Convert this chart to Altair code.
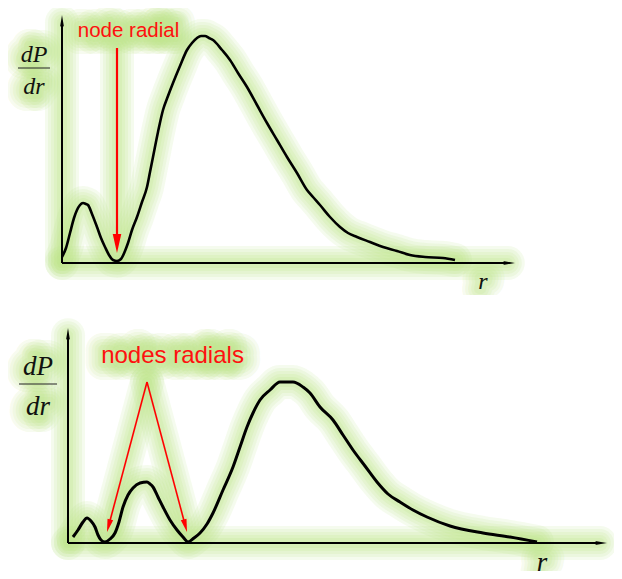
import altair as alt
import pandas as pd
import numpy as np

# ---------------- data (arbitrary units) ----------------
# upper panel : 2s-like radial distribution
top_r = [0, 0.4, 0.8, 1.2, 1.5, 1.8, 2.1, 2.4, 2.6, 3.0, 3.5, 3.9, 4.3, 4.7, 5.1, 5.5, 5.9,
         6.3, 6.6, 7.0, 7.5, 8.0, 8.5, 8.8, 9.1, 9.6, 10.1, 10.6, 11.1, 11.8, 12.5, 13.0,
         13.5, 13.9, 14.3, 14.7, 15.1, 16.0, 16.8, 17.6, 18.5, 19.5, 20.5, 21.5, 22.5,
         23.5, 24.5, 25.1, 25.8, 26.8, 27.8, 28.6, 29.5, 30.8, 32.1, 33.5, 34.8, 36.3,
         38.1, 39.3]
top_p = [0.6, 1.5, 3.0, 4.5, 5.3, 5.8, 6.0, 5.9, 5.8, 4.9, 3.6, 2.5, 1.6, 0.8, 0.3, 0.2, 0.4,
         1.2, 2.0, 3.3, 4.6, 6.1, 7.6, 9.1, 10.6, 13.1, 15.3, 16.7, 18.0, 19.7, 21.3, 22.0,
         22.5, 22.7, 22.7, 22.5, 22.3, 21.3, 20.3, 19.0, 17.6, 15.8, 14.0, 12.3, 10.6,
         9.0, 7.3, 6.6, 5.8, 4.6, 3.6, 3.0, 2.6, 2.1, 1.6, 1.2, 0.8, 0.6,
         0.5, 0.3]

# lower panel : 3s-like radial distribution
bot_r = [0.5, 1.0, 1.5, 1.9, 2.3, 2.7, 3.0, 3.3, 3.7, 4.2, 4.7, 5.1, 5.5, 6.0, 6.5, 7.2, 7.9,
         8.2, 8.5, 9.0, 9.5, 10.2, 10.9, 11.5, 12.0, 12.6, 13.2, 13.9, 14.5, 15.5, 16.5,
         17.2, 17.9, 18.5, 19.2, 20.2, 21.2, 21.9, 22.5, 23.5, 24.2, 25.2, 26.5, 27.5,
         28.5, 29.7, 30.9, 32.0, 33.2, 34.5, 35.9, 38.2, 41.5, 44.2, 46.9]
bot_p = [0.6, 1.3, 2.1, 2.5, 2.2, 1.6, 0.8, 0.3, 0.1, 0.4, 1.0, 2.1, 3.6, 4.8, 5.5, 6.0, 6.1,
         5.9, 5.6, 4.6, 3.6, 2.3, 1.3, 0.6, 0.1, 0.5, 1.0, 1.9, 3.0, 5.3, 7.6,
         9.6, 11.6, 13.0, 14.3, 15.3, 16.1, 16.1, 16.1, 15.6, 15.0, 13.6, 12.3, 10.8,
         9.3, 7.7, 6.1, 4.9, 4.1, 3.3, 2.6, 1.7, 1.0, 0.6, 0.1]

# axis extents (arrow tips) : (r_max, p_max)
top_axis_tip = [45.3, 24.8]
bot_axis_tip = [53.9, 21.5]

# node annotation arrows : start (r, p) -> tip (r, p)
top_node_start = [[5.5, 21.5]]
top_node_tip = [[5.5, 1.0]]
bot_node_start = [[7.9, 16.1], [7.9, 16.1]]
bot_node_tip = [[3.9, 1.1], [11.9, 1.1]]

top_label = "node radial"
bot_label = "nodes radials"

GLOW = "#bfe68a"
GLOW_STEPS = [(34, 0.15), (28, 0.15), (22, 0.16), (16, 0.17), (10, 0.2)]


def path_df(r, p):
    return pd.DataFrame({"r": r, "p": p, "i": range(len(r))})


def arrow_parts(starts, tips, head_len):
    segs, heads = [], []
    for (r0, p0), (r1, p1) in zip(starts, tips):
        d = np.hypot(r1 - r0, p1 - p0)
        ur, up = (r1 - r0) / d, (p1 - p0) / d
        segs.append({"r": r0, "p": p0, "r2": r1 - ur * head_len * 0.6,
                     "p2": p1 - up * head_len * 0.6})
        ang = float(np.degrees(np.arctan2(ur, up)) % 360)
        heads.append({"r": r1, "p": p1, "angle": ang})
    return pd.DataFrame(segs), pd.DataFrame(heads)


HEAD = "M0,0L-0.33,2L0,1.6L0.33,2Z"
HEAD_RED = "M0,0L-0.45,2L0.45,2Z"


def panel(cr, cp, tip, nstart, ntip, label, lab_pos, lab_size, frac, r_pos,
          xdom, ydom, w, h, curve_w, red_w, red_head):
    X = lambda f="r": alt.X(f"{f}:Q", scale=alt.Scale(domain=xdom, nice=False, zero=False), axis=None)
    Y = lambda f="p": alt.Y(f"{f}:Q", scale=alt.Scale(domain=ydom, nice=False, zero=False), axis=None)

    curve = path_df(cr, cp)
    axes_seg, axes_head = arrow_parts([[0, 0], [0, 0]], [[tip[0], 0], [0, tip[1]]], 1.2)
    red_seg, red_head_df = arrow_parts(nstart, ntip, red_head / 10)

    lab = pd.DataFrame({"r": [lab_pos[0]], "p": [lab_pos[1]], "t": [label]})
    fr = pd.DataFrame({"r": [frac["x"]] * 2, "p": [frac["num"], frac["den"]], "t": ["dP", "dr"]})
    bar = pd.DataFrame({"r": [frac["x0"]], "r2": [frac["x1"]], "p": [frac["bar"]]})
    rl = pd.DataFrame({"r": [r_pos[0]], "p": [r_pos[1]], "t": ["r"]})
    serif = pd.concat([fr, rl])

    layers = []
    # ---- soft outer glow ----
    for sw, op in GLOW_STEPS:
        layers.append(alt.Chart(curve).mark_line(color=GLOW, strokeWidth=sw, opacity=op,
                                                 interpolate="monotone",
                                                 strokeCap="round", strokeJoin="round", clip=True)
                      .encode(x=X(), y=Y(), order="i:Q"))
        for seg in (axes_seg, red_seg):
            layers.append(alt.Chart(seg).mark_rule(color=GLOW, strokeWidth=sw, opacity=op,
                                                   strokeCap="round", clip=True)
                          .encode(x=X(), y=Y(), x2="r2:Q", y2="p2:Q"))
        layers.append(alt.Chart(lab).mark_text(font="Liberation Sans", fontSize=lab_size,
                                               baseline="alphabetic", align="center",
                                               color=GLOW, stroke=GLOW, strokeWidth=sw,
                                               strokeOpacity=op, fillOpacity=op,
                                               strokeJoin="round", clip=True)
                      .encode(x=X(), y=Y(), text="t:N"))
        layers.append(alt.Chart(serif).mark_text(font="Liberation Serif", fontStyle="italic",
                                                 fontSize=frac["size"], baseline="alphabetic",
                                                 align="center", color=GLOW, stroke=GLOW,
                                                 strokeWidth=sw, strokeOpacity=op, fillOpacity=op,
                                                 strokeJoin="round", clip=True)
                      .encode(x=X(), y=Y(), text="t:N"))
    # white body under the curve (glow stays outside)
    layers.append(alt.Chart(curve).mark_area(color="white", opacity=1, interpolate="monotone")
                  .encode(x=X(), y=Y(), y2=alt.datum(0.45), order="i:Q"))
    # ---- ink ----
    layers.append(alt.Chart(axes_seg).mark_rule(color="black", strokeWidth=2)
                  .encode(x=X(), y=Y(), x2="r2:Q", y2="p2:Q"))
    layers.append(alt.Chart(axes_head).mark_point(shape=HEAD, filled=True, color="black",
                                                  size=144, opacity=1, strokeWidth=0)
                  .encode(x=X(), y=Y(), angle=alt.Angle("angle:Q", scale=None)))
    layers.append(alt.Chart(curve).mark_line(color="black", strokeWidth=curve_w,
                                             interpolate="monotone", strokeJoin="round")
                  .encode(x=X(), y=Y(), order="i:Q"))
    layers.append(alt.Chart(red_seg).mark_rule(color="#ff0000", strokeWidth=red_w)
                  .encode(x=X(), y=Y(), x2="r2:Q", y2="p2:Q"))
    layers.append(alt.Chart(red_head_df).mark_point(shape=HEAD_RED, filled=True, color="#ff0000",
                                                    size=red_head ** 2, opacity=1, strokeWidth=0)
                  .encode(x=X(), y=Y(), angle=alt.Angle("angle:Q", scale=None)))
    layers.append(alt.Chart(lab).mark_text(font="Liberation Sans", fontSize=lab_size,
                                           baseline="alphabetic", align="center", color="#ff1010")
                  .encode(x=X(), y=Y(), text="t:N"))
    layers.append(alt.Chart(serif).mark_text(font="Liberation Serif", fontStyle="italic",
                                             fontSize=frac["size"], baseline="alphabetic",
                                             align="center", color="#111111")
                  .encode(x=X(), y=Y(), text="t:N"))
    layers.append(alt.Chart(bar).mark_rule(color="#222222", strokeWidth=1)
                  .encode(x=X(), x2="r2:Q", y=Y()))
    return alt.layer(*layers).properties(width=w, height=h)


top = panel(top_r, top_p, top_axis_tip, top_node_start, top_node_tip, top_label,
            (6.65, 22.6), 20.5,
            {"x": -2.8, "num": 20.1, "den": 16.9, "bar": 19.5, "x0": -4.4, "x1": -1.2, "size": 24},
            (42.1, -2.6), [-5.4, 55.2], [-3.2, 25.5], 606, 287, 2.6, 2.2, 19)
bottom = panel(bot_r, bot_p, bot_axis_tip, bot_node_start, bot_node_tip, bot_label,
               (10.45, 18.0), 24,
               {"x": -3.0, "num": 16.8, "den": 12.8, "bar": 15.9, "x0": -4.9, "x1": -1.1, "size": 27},
               (47.4, -2.75), [-6.0, 54.6], [-2.8, 24.8], 606, 276, 3.0, 1.6, 13)

chart = (alt.vconcat(top, bottom, spacing=0)
         .resolve_scale(x="independent", y="independent")
         .properties(padding=0, bounds="flush", background="white")
         .configure_view(stroke=None))

chart.save("out.html", embed_options={"renderer": "svg", "actions": False})
